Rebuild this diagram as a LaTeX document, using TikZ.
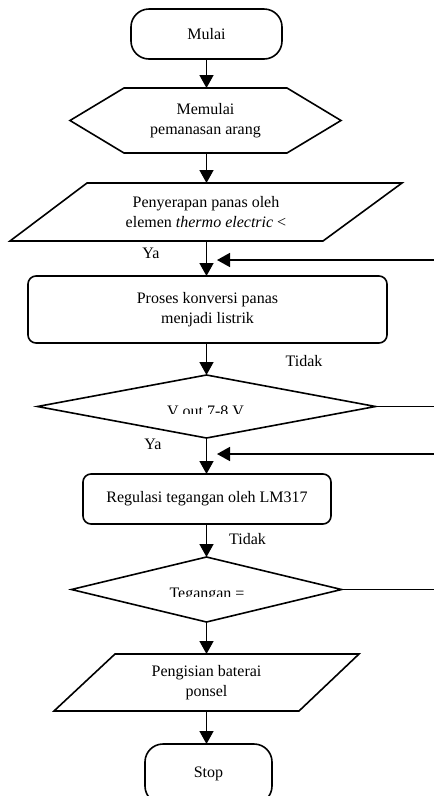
\documentclass[tikz,border=0pt]{standalone}
\usepackage{fontspec}
\setmainfont{Liberation Serif}
\usetikzlibrary{arrows.meta,shapes.geometric}

\begin{document}
\begin{tikzpicture}[x=1pt,y=-1pt,line width=1.6pt,
  font=\fontsize{16}{20}\selectfont,
  every node/.style={inner sep=0pt,outer sep=0pt},
  term/.style={draw,rounded corners=18pt,minimum width=151pt},
  proc/.style={draw,rounded corners=8pt,align=center},
  plain/.style={align=center},
  dec/.style={draw,diamond},
  arr/.style={-{Triangle[length=13pt,width=14pt]}}]
  \clip (0,0) rectangle (434,796);
  \coordinate (rim) at (434,0);
  \coordinate (sumbu) at (206.5,0);

  \node[term,minimum height=50pt] (mulai) at (206.5,34) {Mulai};
  \node[plain,minimum width=271pt,minimum height=65pt] (hex) at (205.5,120.5) {Memulai\\pemanasan arang};
  \draw (hex.west) -- ([xshift=54pt]hex.north west) -- ([xshift=-54pt]hex.north east)
    -- (hex.east) -- ([xshift=-54pt]hex.south east) -- ([xshift=54pt]hex.south west) -- cycle;
  \node[plain,minimum width=392pt,minimum height=58pt] (serap) at (206,212) {Penyerapan panas oleh\\elemen \textit{thermo electric} <};
  \draw ([xshift=77pt]serap.north west) -- (serap.north east) -- ([xshift=-79pt]serap.south east) -- (serap.south west) -- cycle;
  \node[proc,minimum width=359pt,minimum height=67pt] (konversi) at (207.5,309.5) {Proses konversi panas\\menjadi listrik};
  \node[dec,minimum width=338pt,minimum height=63pt] (cekv) at (206.5,406.5) {};
  \begin{scope}
    \clip (0,0) rectangle (434,413);
    \node[anchor=base] (tcekv) at (205.5,416.5) {V out 7-8 V};
  \end{scope}
  \node[proc,minimum width=248pt,minimum height=50pt] (regulasi) at (207,499) {Regulasi tegangan oleh LM317};
  \node[dec,minimum width=270pt,minimum height=65pt] (cekt) at (206.5,589.5) {};
  \begin{scope}
    \clip (0,0) rectangle (434,596);
    \node[anchor=base] (tcekt) at (207,598.5) {Tegangan =};
  \end{scope}
  \node[plain,minimum width=305pt,minimum height=57pt] (isi) at (206.5,682.5) {Pengisian baterai\\ponsel};
  \draw ([xshift=61pt]isi.north west) -- (isi.north east) -- ([xshift=-60pt]isi.south east) -- (isi.south west) -- cycle;
  \node[term,minimum width=127pt,minimum height=60pt] (stop) at (208.5,774) {Stop};

  \draw[arr] (sumbu |- mulai.south) -- (sumbu |- hex.north);
  \draw[arr] (sumbu |- hex.south) -- (sumbu |- serap.north);
  \draw[arr] (sumbu |- serap.south) -- (sumbu |- konversi.north);
  \draw[arr] (sumbu |- konversi.south) -- (cekv.north);
  \draw[arr] (cekv.south) -- (sumbu |- regulasi.north);
  \draw[arr] (sumbu |- regulasi.south) -- (cekt.north);
  \draw[arr] (cekt.south) -- (sumbu |- isi.north);
  \draw[arr] (sumbu |- isi.south) -- (sumbu |- stop.north);

  \coordinate (balik1) at (217,260);
  \coordinate (balik2) at (217,454);
  \draw[arr] (balik1 -| rim) -- (balik1);
  \draw[arr] (balik2 -| rim) -- (balik2);
  \draw (cekv.east) -- (cekv.east -| rim);
  \draw (cekt.east) -- (cekt.east -| rim);

  \node (ya1) at (151,253) {Ya};
  \node (tidak1) at (304,361) {Tidak};
  \node (ya2) at (153,444.5) {Ya};
  \node (tidak2) at (247.5,539) {Tidak};
\end{tikzpicture}
\end{document}
